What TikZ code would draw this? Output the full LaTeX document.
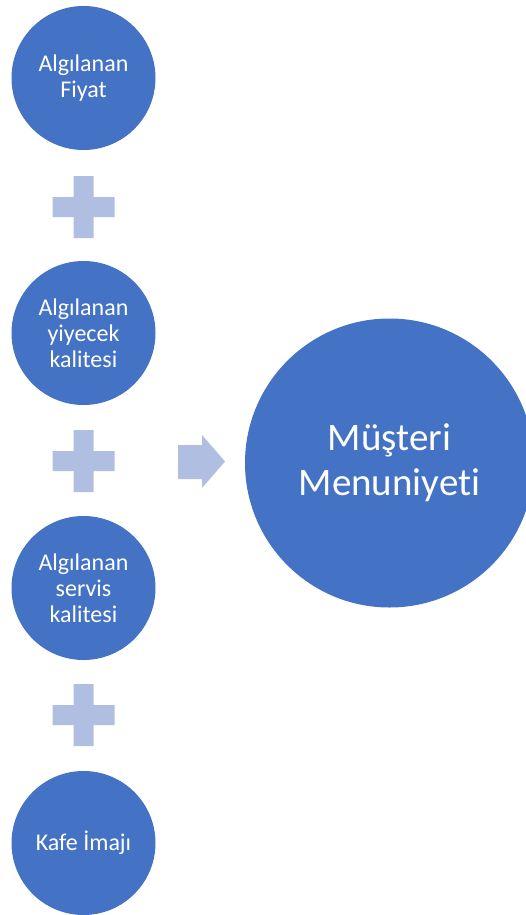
\documentclass[tikz,border=0pt]{standalone}
\usepackage{fontspec}
\setmainfont[Ligatures=NoCommon]{Carlito}
\definecolor{accent}{HTML}{4472C4}
\definecolor{accentlight}{HTML}{B0BFE1}
\tikzset{
  factor/.style={circle, fill=accent, minimum size=144pt, inner sep=0pt,
    text=white, align=center, font=\fontsize{24}{26}\selectfont},
  result/.style={circle, fill=accent, minimum size=289pt, inner sep=0pt,
    text=white, align=center, font=\fontsize{39}{45}\selectfont},
  plussign/.style={fill=accentlight},
  flowarrow/.style={fill=accentlight}
}
\newcommand{\plusat}[2]{%
  \fill[plussign] (#1-10,#2-31) -- (#1+10,#2-31) -- (#1+10,#2-10) -- (#1+31,#2-10)
    -- (#1+31,#2+10) -- (#1+10,#2+10) -- (#1+10,#2+31) -- (#1-10,#2+31)
    -- (#1-10,#2+10) -- (#1-31,#2+10) -- (#1-31,#2-10) -- (#1-10,#2-10) -- cycle;}
\begin{document}
\begin{tikzpicture}[x=1pt,y=-1pt]
  \useasboundingbox (0,0) rectangle (525,915);
  % factor circles on the left
  \node[factor] (price)   at (83.5,78)  {Algılanan\\Fiyat};
  \node[factor] (food)    at (83.5,333) {Algılanan\\yiyecek\\kalitesi};
  \node[factor] (service) at (83.5,588) {Algılanan\\servis\\kalitesi};
  \node[factor] (image)   at (83.5,843) {Kafe İmajı};
  % plus signs between the factors
  \plusat{83.5}{207}
  \plusat{83.5}{461}
  \plusat{83.5}{715}
  % block arrow towards the result
  \fill[flowarrow] (178,445) -- (202,445) -- (202,435) -- (225,461.5)
    -- (202,488) -- (202,479) -- (178,479) -- cycle;
  % result circle
  \node[result] (satisfaction) at (389.5,463) {Müşteri\\Menuniyeti};
\end{tikzpicture}
\end{document}
